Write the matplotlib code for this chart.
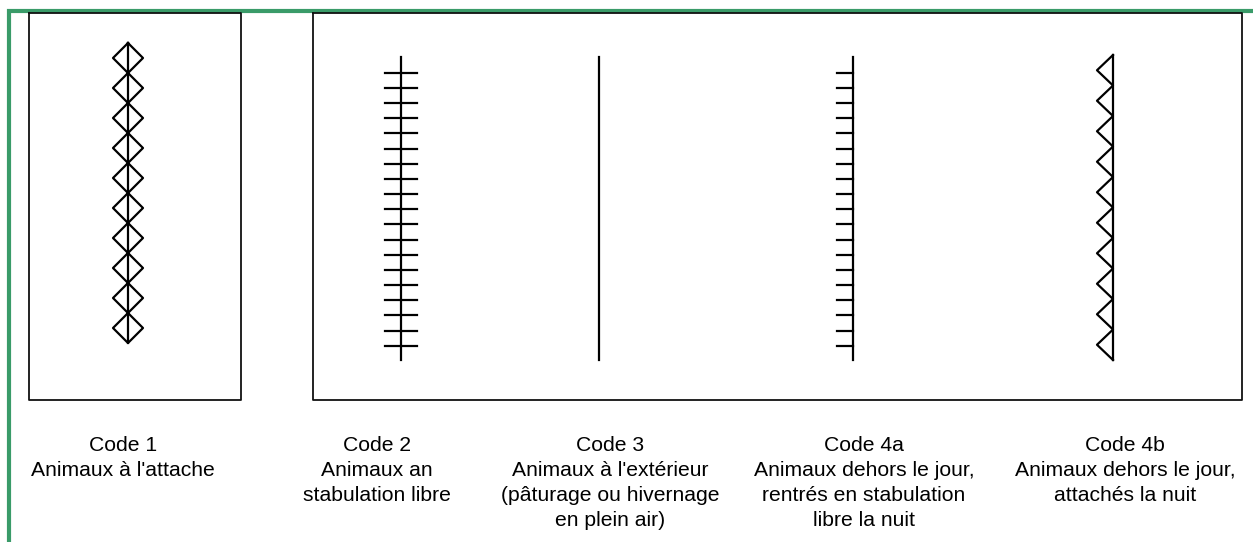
import matplotlib.pyplot as plt
import numpy as np

plt.rcParams['font.family'] = ['Liberation Sans', 'DejaVu Sans']

# codes et libellés
codes = ['Code 1', 'Code 2', 'Code 3', 'Code 4a', 'Code 4b']
libelles = ["Animaux à l'attache",
            "Animaux an\nstabulation libre",
            "Animaux à l'extérieur\n(pâturage ou hivernage\nen plein air)",
            "Animaux dehors le jour,\nrentrés en stabulation\nlibre la nuit",
            "Animaux dehors le jour,\nattachés la nuit"]
symboles = ['losanges', 'croix', 'simple', 'gauche', 'zigzag']
nb_motifs = [10, 19, 0, 19, 10]

# mise en page (pixels)
xc = [128, 401, 599, 853, 1113]      # symboles
xt = [123, 377, 610, 864, 1125]      # textes
W, H = 1253, 542

fig = plt.figure(figsize=(W / 100, H / 100), dpi=100)
ax = fig.add_axes([0, 0, 1, 1])
ax.set_xlim(0, W)
ax.set_ylim(H, 0)
ax.axis('off')

# cadre vert
vert = '#3a9b69'
ax.plot([9, 9, W], [H, 11, 11], color=vert, lw=3, solid_joinstyle='miter')

# deux boîtes
for x0, x1 in [(29, 241), (313, 1242)]:
    ax.plot([x0, x1, x1, x0, x0], [13, 13, 400, 400, 13], color='#111111', lw=1.3)

lw = 1.6
for x, sym, n in zip(xc, symboles, nb_motifs):
    if sym == 'losanges':
        y0, y1 = 43, 343
        ys = np.linspace(y0, y1, n + 1)
        ax.plot([x, x], [y0, y1], color='k', lw=lw)
        for a, b in zip(ys[:-1], ys[1:]):
            m = (a + b) / 2
            ax.plot([x, x + 15, x, x - 15, x], [a, m, b, m, a], color='k', lw=lw)
    elif sym == 'zigzag':
        y0, y1 = 55, 360
        ys = np.linspace(y0, y1, n + 1)
        ax.plot([x, x], [y0, y1], color='k', lw=lw)
        px, py = [x], [y0]
        for a, b in zip(ys[:-1], ys[1:]):
            px += [x - 16, x]
            py += [(a + b) / 2, b]
        ax.plot(px, py, color='k', lw=lw)
    else:
        ax.plot([x, x], [57, 360], color='k', lw=lw)
        if n:
            ys = np.linspace(72.7, 345.7, n)
            left = x - 16
            right = x + 16 if sym == 'croix' else x
            for y in ys:
                ax.plot([left, right], [y, y], color='k', lw=lw)

for x, c, l in zip(xt, codes, libelles):
    ax.text(x, 436, c + '\n' + l, ha='center', va='top', fontsize=15.2,
            linespacing=1.4, color='k')

fig.savefig('out.png', dpi=100)
